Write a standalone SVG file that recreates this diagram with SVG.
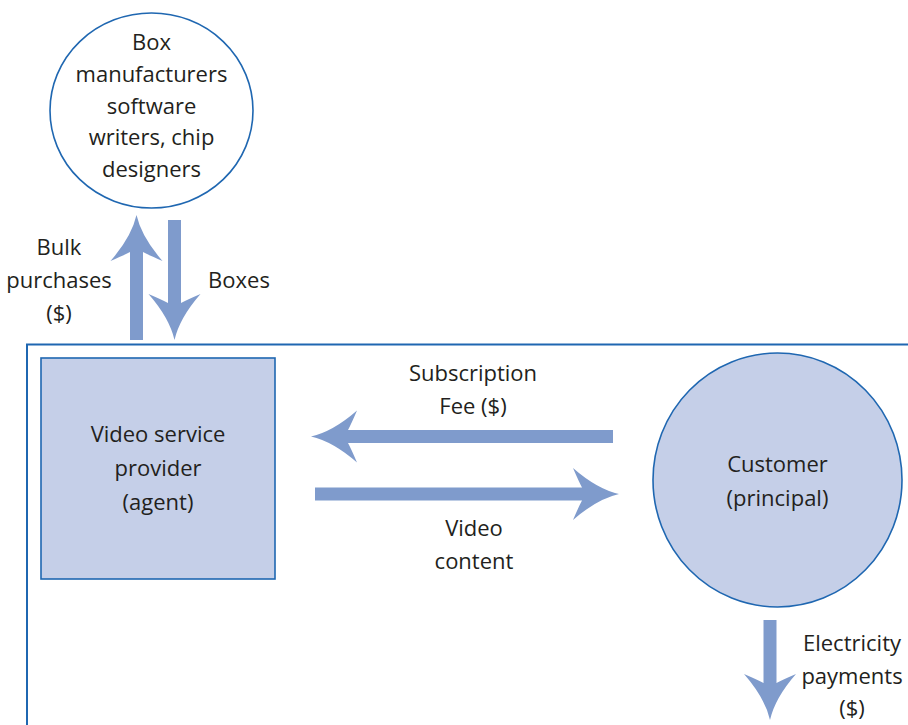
<svg xmlns="http://www.w3.org/2000/svg" width="908" height="725" viewBox="0 0 908 725">
  <style>
    .lbl { font-family: "Open Sans", "Noto Sans", sans-serif; font-size: 22px; fill: #231f20; text-anchor: middle; }
    .node { fill: #c5cfe8; stroke: #1f67b1; stroke-width: 1.6; }
    .node-open { fill: #ffffff; stroke: #1f67b1; stroke-width: 1.6; }
    .frame { fill: none; stroke: #1f67b1; stroke-width: 2; }
    .flow { stroke: #7f9bcc; stroke-width: 13; fill: none; marker-end: url(#head); }
  </style>
  <defs>
    <!-- broad arrowhead with concave flanks; refX sits where the shaft meets the head -->
    <marker id="head" markerUnits="userSpaceOnUse" viewBox="-50 -30 52 60" refX="-36" refY="0" markerWidth="52" markerHeight="60" orient="auto">
      <path d="M0,0 Q-22,-5 -46,-26 Q-40,-12 -37,-6.5 L-37,6.5 Q-40,12 -46,26 Q-22,5 0,0 Z" fill="#7f9bcc"/>
    </marker>
  </defs>

  <!-- boundary of the service arrangement -->
  <path class="frame" d="M27,725 L27,344.5 L908,344.5"/>

  <g id="suppliers">
    <ellipse class="node-open" cx="151.5" cy="110.5" rx="101.5" ry="97.5"/>
    <text class="lbl" x="151.5" y="50">Box</text>
    <text class="lbl" x="151.5" y="82">manufacturers</text>
    <text class="lbl" x="151.5" y="113.5">software</text>
    <text class="lbl" x="151.5" y="145">writers, chip</text>
    <text class="lbl" x="151.5" y="177">designers</text>
  </g>

  <g id="provider">
    <rect class="node" x="41" y="358" width="234" height="221"/>
    <text class="lbl" x="158" y="442">Video service</text>
    <text class="lbl" x="158" y="476">provider</text>
    <text class="lbl" x="158" y="510">(agent)</text>
  </g>

  <g id="customer">
    <ellipse class="node" cx="777.5" cy="480" rx="124.5" ry="127"/>
    <text class="lbl" x="777.5" y="472">Customer</text>
    <text class="lbl" x="777.5" y="506">(principal)</text>
  </g>

  <g id="connectors">
    <line class="flow" x1="136.5" y1="340" x2="136.5" y2="251"/>
    <line class="flow" x1="174.5" y1="220" x2="174.5" y2="304"/>
    <line class="flow" x1="613" y1="436.5" x2="347" y2="436.5"/>
    <line class="flow" x1="315" y1="494" x2="583" y2="494"/>
    <line class="flow" x1="770" y1="620" x2="770" y2="684"/>
  </g>

  <g id="labels">
    <text class="lbl" x="59" y="255">Bulk</text>
    <text class="lbl" x="59" y="288">purchases</text>
    <text class="lbl" x="59" y="321">($)</text>
    <text class="lbl" x="239" y="288">Boxes</text>
    <text class="lbl" x="473" y="381">Subscription</text>
    <text class="lbl" x="473" y="414">Fee ($)</text>
    <text class="lbl" x="474" y="536">Video</text>
    <text class="lbl" x="474" y="569">content</text>
    <text class="lbl" x="852" y="651">Electricity</text>
    <text class="lbl" x="852" y="684">payments</text>
    <text class="lbl" x="852" y="716">($)</text>
  </g>
</svg>
